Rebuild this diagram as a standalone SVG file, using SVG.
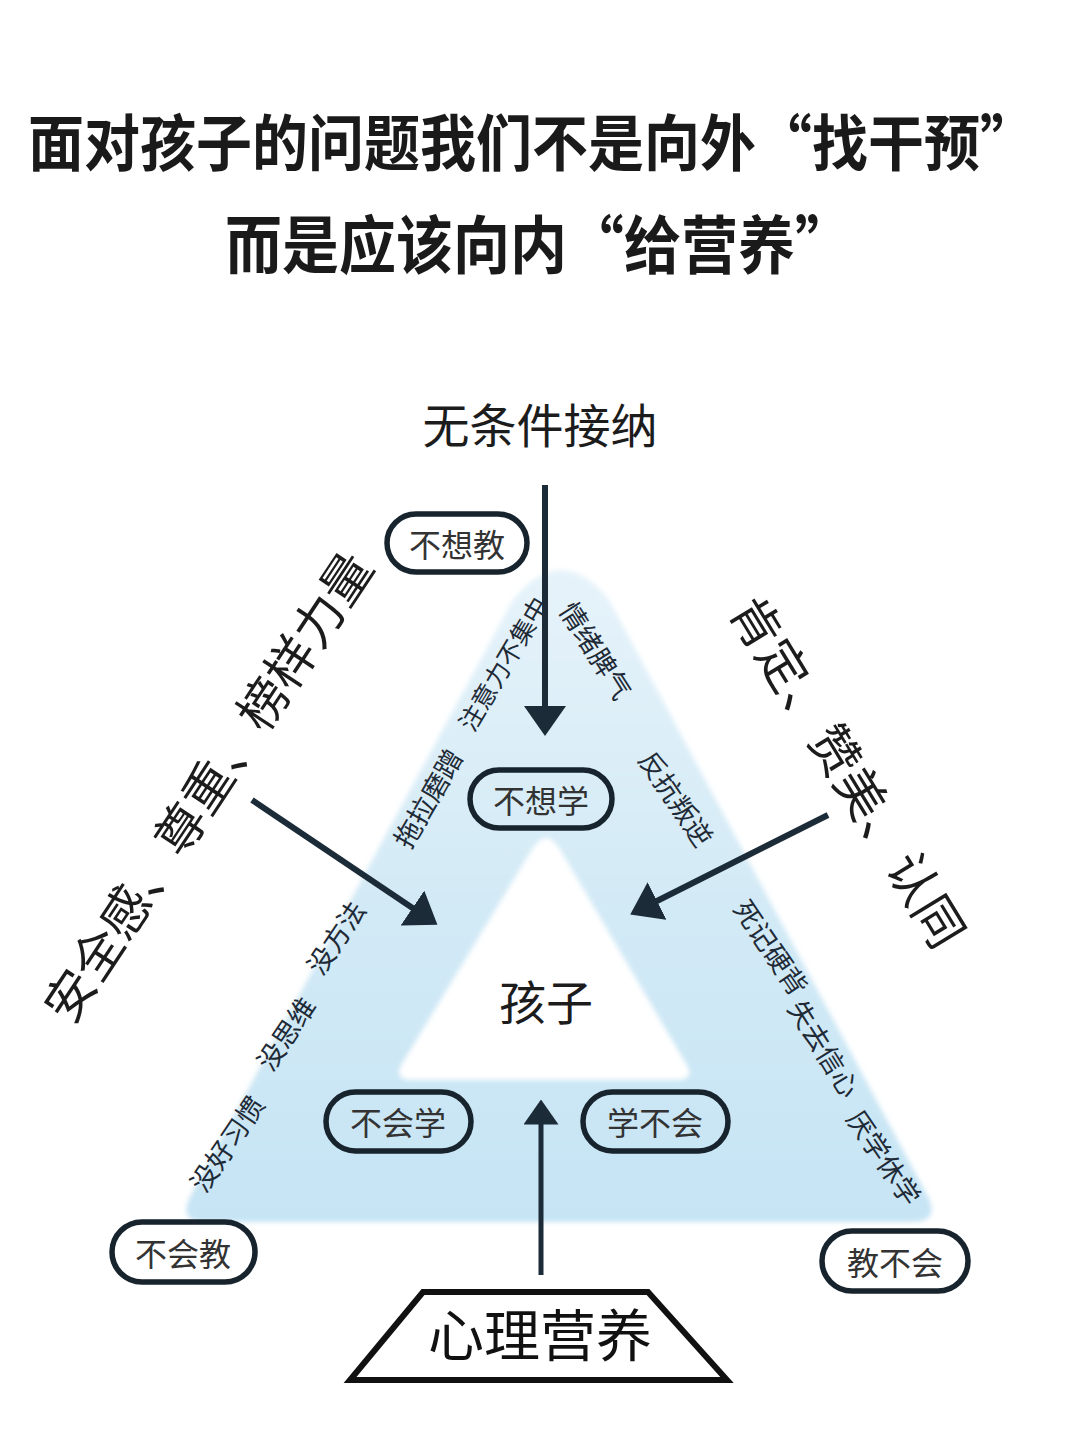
<svg xmlns="http://www.w3.org/2000/svg" width="1080" height="1442" viewBox="0 0 1080 1442">
  <style>
    text { font-family: "Noto Sans CJK SC", "Noto Sans", sans-serif; fill: #222; }
    .title { font-weight: 700; font-size: 56px; fill: #1a1a1a; }
    .big { font-size: 50px; fill: #1c1c1c; }
    .mid { font-size: 47px; fill: #1c1c1c; }
    .side { font-size: 27px; fill: #1e2a36; }
    .pilltxt { font-size: 32px; fill: #333; }
    .pill { fill: none; stroke: #17232d; stroke-width: 5.5; }
    .arrow { fill: none; stroke: #1c2b38; stroke-width: 6; marker-end: url(#head); }
    .base { fill: #fff; stroke: #111; stroke-width: 6; stroke-linejoin: miter; }
  </style>
  <defs>
    <linearGradient id="ring" x1="0" y1="0" x2="0" y2="1">
      <stop offset="0" stop-color="#e6f3fa"/>
      <stop offset="0.5" stop-color="#d3eaf6"/>
      <stop offset="1" stop-color="#c6e4f4"/>
    </linearGradient>
    <filter id="soft" x="-5%" y="-5%" width="110%" height="110%">
      <feGaussianBlur stdDeviation="2.5"/>
    </filter>
    <marker id="head" viewBox="0 0 10 14" markerWidth="5" markerHeight="7" refX="3" refY="7" orient="auto" markerUnits="strokeWidth">
      <path d="M0,0 L10,7 L0,14 Z" fill="#1c2b38"/>
    </marker>
  </defs>

  <rect width="1080" height="1442" fill="#fff"/>

  <g id="title">
    <text class="title" transform="translate(28,166) scale(1,1.1)" x="0" y="0">面对孩子的问题我们不是向外“找干预”</text>
    <text class="title" style="font-size:57px" transform="translate(225,268) scale(1,1.1)" x="0" y="0">而是应该向内“给营养”</text>
  </g>

  <g id="ring-triangle">
    <path d="M513,600 Q561,540 609,600 L927,1195 Q941,1222 912,1222 L205,1222 Q177,1222 191,1195 Z" fill="url(#ring)" filter="url(#soft)"/>
    <path d="M531,851 Q546,825 561,851 L685,1062 Q697,1080 676,1080 L412,1080 Q392,1080 403,1062 Z" fill="#fff" filter="url(#soft)"/>
  </g>

  <g id="side-labels">
    <text class="side" style="font-size:25px" transform="translate(502,663) rotate(-59.5)" text-anchor="middle" dominant-baseline="central">注意力不集中</text>
    <text class="side" transform="translate(597,650) rotate(57.6)" text-anchor="middle" dominant-baseline="central">情绪脾气</text>
    <text class="side" transform="translate(427,798) rotate(-60)" text-anchor="middle" dominant-baseline="central">拖拉磨蹭</text>
    <text class="side" transform="translate(677,798) rotate(56)" text-anchor="middle" dominant-baseline="central">反抗叛逆</text>
    <text class="side" transform="translate(335,937) rotate(-56)" text-anchor="middle" dominant-baseline="central">没方法</text>
    <text class="side" transform="translate(285,1033) rotate(-56)" text-anchor="middle" dominant-baseline="central">没思维</text>
    <text class="side" transform="translate(226,1143) rotate(-56)" text-anchor="middle" dominant-baseline="central">没好习惯</text>
    <text class="side" transform="translate(772,947) rotate(56)" text-anchor="middle" dominant-baseline="central">死记硬背</text>
    <text class="side" transform="translate(825,1048) rotate(58)" text-anchor="middle" dominant-baseline="central">失去信心</text>
    <text class="side" transform="translate(885,1157) rotate(56)" text-anchor="middle" dominant-baseline="central">厌学休学</text>
  </g>

  <g id="connectors">
    <line class="arrow" x1="545" y1="485" x2="545" y2="715"/>
    <line class="arrow" x1="252" y1="800" x2="420" y2="913"/>
    <line class="arrow" x1="828" y1="815" x2="649" y2="905"/>
    <line class="arrow" style="stroke-width:5" x1="541" y1="1275" x2="541" y2="1117"/>
  </g>

  <g id="node-wutiaojian">
    <text class="mid" x="540" y="422" text-anchor="middle" dominant-baseline="central">无条件接纳</text>
  </g>
  <g id="node-left-support">
    <text class="big" transform="translate(205,785) rotate(-56.5)" text-anchor="middle" dominant-baseline="central">安全感、尊重、榜样力量</text>
  </g>
  <g id="node-right-support">
    <text class="big" transform="translate(851,770) rotate(58.6)" text-anchor="middle" dominant-baseline="central">肯定、赞美、认同</text>
  </g>
  <g id="node-child">
    <text class="mid" x="546" y="999" text-anchor="middle" dominant-baseline="central">孩子</text>
  </g>

  <g id="node-buxiangjiao">
    <rect class="pill" x="387" y="514" width="140" height="58" rx="29"/>
    <text class="pilltxt" x="457" y="543" text-anchor="middle" dominant-baseline="central">不想教</text>
  </g>
  <g id="node-buxiangxue">
    <rect class="pill" x="470" y="770" width="142" height="58" rx="29"/>
    <text class="pilltxt" x="541" y="799" text-anchor="middle" dominant-baseline="central">不想学</text>
  </g>
  <g id="node-buhuixue">
    <rect class="pill" x="326" y="1092" width="145" height="59" rx="29.5"/>
    <text class="pilltxt" x="398" y="1121" text-anchor="middle" dominant-baseline="central">不会学</text>
  </g>
  <g id="node-xuebuhui">
    <rect class="pill" x="583" y="1092" width="145" height="59" rx="29.5"/>
    <text class="pilltxt" x="655" y="1121" text-anchor="middle" dominant-baseline="central">学不会</text>
  </g>
  <g id="node-buhuijiao">
    <rect class="pill" x="112" y="1222" width="143" height="60" rx="30"/>
    <text class="pilltxt" x="183" y="1252" text-anchor="middle" dominant-baseline="central">不会教</text>
  </g>
  <g id="node-jiaobuhui">
    <rect class="pill" x="822" y="1231" width="146" height="60" rx="30"/>
    <text class="pilltxt" x="895" y="1261" text-anchor="middle" dominant-baseline="central">教不会</text>
  </g>

  <g id="node-xinliyingyang">
    <path class="base" d="M423,1292 L648,1292 L727,1380 L350,1380 Z"/>
    <text x="540" y="1331" text-anchor="middle" dominant-baseline="central" style="font-size:56px;fill:#111">心理营养</text>
  </g>
</svg>
